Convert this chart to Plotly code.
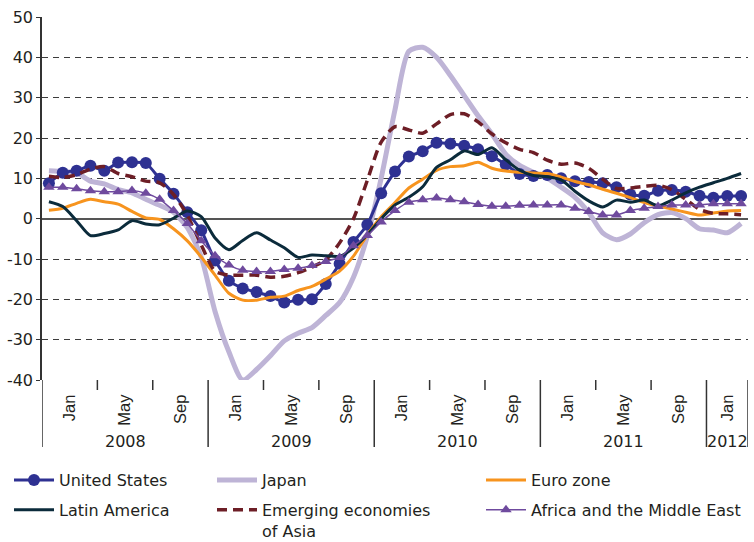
import plotly.graph_objects as go

# Months: Jan 2008 .. Mar 2012 (51 monthly observations)
months = [f"{y}-{m:02d}" for y in range(2008, 2013) for m in range(1, 13)][:51]
x = list(range(len(months)))

united_states = [8.8, 11.4, 11.9, 13.1, 11.9, 13.9, 14.0, 13.8, 9.9, 6.2, 1.6, -2.9,
                 -10.4, -15.4, -17.3, -18.2, -19.2, -20.8, -20.1, -20.0, -16.2, -11.2, -5.8, -1.5,
                 6.3, 11.7, 15.4, 16.7, 18.8, 18.6, 18.1, 17.2, 15.5, 13.4, 11.1, 10.6,
                 10.8, 10.0, 9.3, 9.1, 8.8, 7.8, 6.0, 5.7, 6.9, 7.1, 6.7, 5.7,
                 5.2, 5.6, 5.6]
japan = [11.9, 11.7, 11.4, 9.3, 8.6, 7.2, 6.4, 4.8, 3.3, 1.6, -2.2, -9.5,
         -23.0, -33.0, -40.0, -37.4, -34.0, -30.3, -28.4, -27.0, -24.0, -20.8, -14.5, -4.4,
         10.0, 27.0, 41.5, 42.5, 40.0, 35.5, 30.5, 25.5, 21.0, 16.0, 13.2, 11.5,
         10.0, 7.8, 5.3, 1.5, -3.5, -5.2, -3.8, -1.0, 1.0, 1.5, 0.0, -2.5,
         -2.8, -3.5, -1.2]
euro_zone = [2.1, 2.6, 3.8, 4.8, 4.2, 3.6, 1.8, 0.2, -0.2, -2.5, -5.5, -9.5,
             -14.0, -18.5, -20.2, -20.2, -19.5, -19.2, -17.8, -16.8, -15.0, -13.0, -9.3, -4.0,
             0.5, 4.0, 7.6, 9.8, 12.0, 12.9, 13.1, 14.0, 12.5, 11.8, 11.5, 11.3,
             11.2, 10.3, 9.2, 8.4, 7.3, 6.3, 5.2, 4.0, 3.1, 2.4, 1.6, 0.9,
             1.4, 1.9, 2.0]
latin_america = [4.2, 3.0, -0.5, -4.2, -3.7, -2.8, -0.5, -1.3, -1.5, 0.1, 1.9, 0.5,
                 -4.8, -7.7, -5.4, -3.5, -5.3, -7.2, -9.6, -9.0, -9.2, -9.3, -7.3, -4.0,
                 0.0, 3.4, 5.3, 7.9, 12.7, 14.6, 16.8, 15.9, 17.6, 14.6, 12.0, 10.7,
                 10.4, 9.6, 6.8, 4.4, 2.9, 4.6, 4.1, 4.6, 3.2, 4.6, 6.4, 7.8,
                 8.9, 10.0, 11.2]
emerging_asia = [10.5, 10.2, 10.9, 12.3, 12.9, 11.2, 10.4, 9.3, 8.9, 6.0, 0.8, -6.5,
                 -13.0, -14.0, -14.0, -14.0, -14.5, -14.3, -13.4, -12.0, -10.2, -6.0, 0.0, 9.5,
                 19.0, 22.8, 22.0, 21.2, 23.5, 25.8, 26.0, 24.0, 21.0, 18.8, 17.2, 16.4,
                 14.5, 13.5, 13.8, 12.5, 9.8, 7.5, 7.6, 8.0, 8.3, 7.2, 4.8, 2.3,
                 1.3, 1.2, 1.0]
africa_me = [7.8, 7.8, 7.4, 6.9, 6.7, 6.7, 7.0, 6.3, 4.8, 2.0, -1.2, -5.5,
             -9.2, -11.5, -12.8, -13.1, -13.1, -12.6, -12.3, -11.6, -10.6, -9.6, -6.7, -4.2,
             -0.8, 2.0, 4.1, 4.7, 5.1, 4.7, 4.2, 3.5, 3.1, 3.1, 3.3, 3.4,
             3.4, 3.4, 2.6, 1.8, 0.9, 0.9, 2.0, 2.6, 3.0, 3.4, 3.4, 3.4,
             3.7, 3.7, 3.7]

month_group_labels = ["Jan", "May", "Sep"] * 4 + ["Jan"]
month_group_centers = [1.5, 5.5, 9.5, 13.5, 17.5, 21.5, 25.5, 29.5, 33.5, 37.5, 41.5, 45.5, 49]
year_labels = ["2008", "2009", "2010", "2011", "2012"]
year_centers = [5.5, 17.5, 29.5, 41.5, 49]
year_bounds = [-0.5, 11.5, 23.5, 35.5, 47.5, 50.5]
minor_bounds = [3.5, 7.5, 15.5, 19.5, 27.5, 31.5, 39.5, 43.5]
y_tick_values = [-40, -30, -20, -10, 0, 10, 20, 30, 40, 50]
y_tick_labels = ["-40", "-30", "-20", "-10", "0", "10", "20", "30", "40", "50"]

FONT = "DejaVu Sans, Liberation Sans, Arial, sans-serif"
FONT_ROT = "Liberation Sans, Arial, sans-serif"
FS = 16
TXT = "#231f20"

W, H = 754, 542
PL, PR, PT, PB = 42, 748, 17, 380
PW, PH = PR - PL, PB - PT

fig = go.Figure()
fig.add_trace(go.Scatter(x=x, y=japan, name="Japan", mode="lines", legendgroup="jp",
                         line=dict(color="#beb4d6", width=5, shape="spline", smoothing=0.7),
                         legend="legend2"))
fig.add_trace(go.Scatter(x=x, y=united_states, name="United States", mode="lines+markers",
                         legendgroup="us",
                         line=dict(color="#2e3192", width=3, shape="spline", smoothing=0.5),
                         marker=dict(symbol="circle", size=12, color="#2e3192"),
                         legend="legend"))
fig.add_trace(go.Scatter(x=x, y=euro_zone, name="Euro zone", mode="lines", legendgroup="eu",
                         line=dict(color="#f7941e", width=3, shape="spline", smoothing=0.7),
                         legend="legend3"))
fig.add_trace(go.Scatter(x=x, y=emerging_asia, name="Emerging economies<br>of Asia", mode="lines",
                         legendgroup="as",
                         line=dict(color="#6d1e26", width=3.5, dash="10px,6px", shape="spline", smoothing=0.7),
                         legend="legend2"))
fig.add_trace(go.Scatter(x=x, y=latin_america, name="Latin America", mode="lines", legendgroup="la",
                         line=dict(color="#0b2b3b", width=3, shape="spline", smoothing=0.7),
                         legend="legend"))
fig.add_trace(go.Scatter(x=x, y=africa_me, name="Africa and the Middle East", mode="lines+markers",
                         legendgroup="af",
                         line=dict(color="#6f4a9e", width=1.5, shape="spline", smoothing=0.5),
                         marker=dict(symbol="triangle-up", size=10, color="#6f4a9e"),
                         legend="legend3"))

shapes = []
for b in year_bounds:
    shapes.append(dict(type="line", xref="x", yref="paper", x0=b, x1=b, y0=0, y1=-67 / PH,
                       line=dict(color="#333333", width=1.5)))
for b in minor_bounds:
    shapes.append(dict(type="line", xref="x", yref="paper", x0=b, x1=b, y0=0, y1=-10 / PH,
                       line=dict(color="#333333", width=1.5)))

annotations = [dict(x=c, y=-61 / PH, xref="x", yref="paper", text=t, showarrow=False,
                    font=dict(family=FONT, size=FS, color=TXT), yanchor="middle")
               for c, t in zip(year_centers, year_labels)]

leg_common = dict(orientation="v", font=dict(family=FONT, size=FS, color=TXT),
                  bgcolor="rgba(0,0,0,0)", xanchor="left", yanchor="top",
                  tracegroupgap=6, itemwidth=40, valign="top")
leg_y = -83 / PH


def lx(px):
    return (px - PL) / PW


fig.update_layout(
    width=W, height=H,
    margin=dict(l=PL, r=W - PR, t=PT, b=H - PB, autoexpand=False),
    paper_bgcolor="white", plot_bgcolor="white",
    font=dict(family=FONT, size=FS, color=TXT),
    xaxis=dict(range=[-0.5, 50.5], showgrid=False, zeroline=False, showline=False,
               tickmode="array", tickvals=month_group_centers, ticktext=month_group_labels,
               tickangle=-90, ticks="outside", ticklen=7, tickcolor="rgba(0,0,0,0)",
               tickfont=dict(family=FONT_ROT, size=16.5, color=TXT)),
    yaxis=dict(range=[-40, 50], tickmode="array", tickvals=y_tick_values, ticktext=y_tick_labels,
               showgrid=True, gridcolor="#3c3c3c", gridwidth=1,
               griddash="6px,5px", zeroline=True, zerolinecolor="#555555", zerolinewidth=2,
               showline=True, linecolor="#333333", linewidth=1.5, ticks="outside", ticklen=4,
               tickcolor="#333333", tickfont=dict(family=FONT, size=FS, color=TXT)),
    shapes=shapes,
    annotations=annotations,
    legend=dict(x=lx(9), y=leg_y, **leg_common),
    legend2=dict(x=lx(212), y=leg_y, **leg_common),
    legend3=dict(x=lx(481), y=leg_y, **leg_common),
    showlegend=True,
)

fig.write_html("out.html", config={"displayModeBar": False},
               post_script="document.body.style.margin='0px';")
